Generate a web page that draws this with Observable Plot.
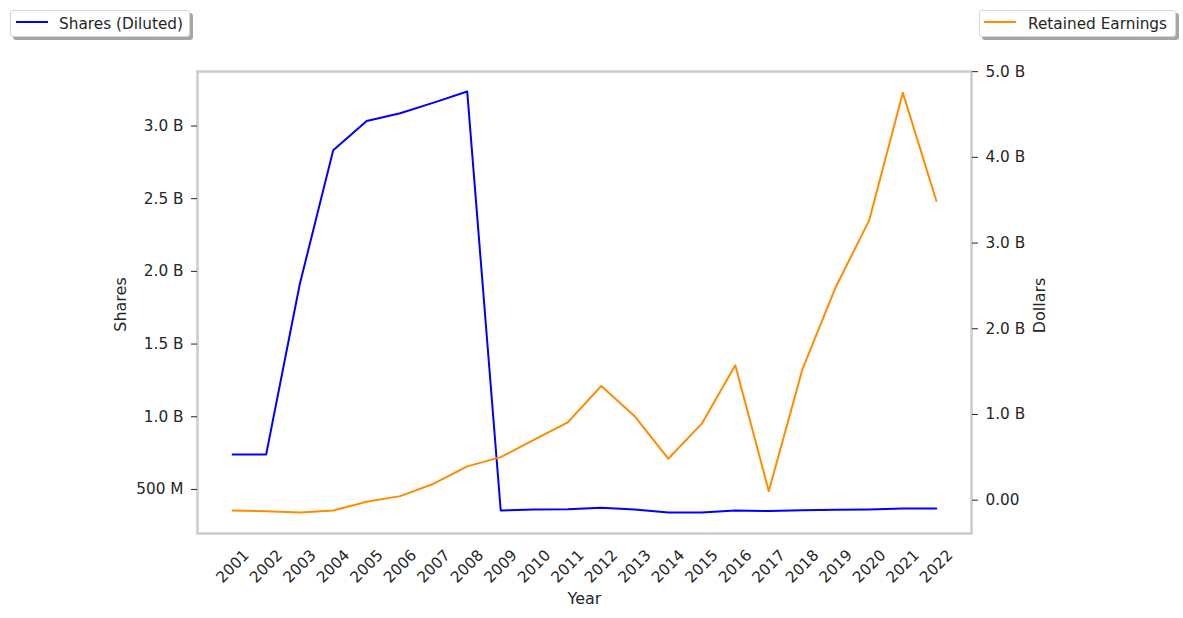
<!DOCTYPE html>
<html>
<head>
<meta charset="utf-8">
<script src="https://cdn.jsdelivr.net/npm/d3@7"></script>
<script src="https://cdn.jsdelivr.net/npm/@observablehq/plot@0.6"></script>
<style>
  body { margin: 0; background: #fff; font-family: "DejaVu Sans", sans-serif; }
  #wrap { position: relative; width: 1183px; height: 618px; overflow: hidden; }
  #wrap svg { position: absolute; left: 0; top: 0; }
  .legend { position: absolute; top: 10px; height: 27px; box-sizing: border-box; background: #fff;
            border: 1px solid #d6d6d6; border-radius: 3px; box-shadow: 3px 3px 0 rgba(0,0,0,0.35);
            font-size: 15.3px; color: #262626; }
  .legend .sw { position: absolute; top: 10px; width: 32px; height: 0; border-top: 2px solid; }
  .legend .tx { position: absolute; top: 3px; line-height: 20px; white-space: nowrap; }
</style>
</head>
<body>
<div id="wrap">
  <div class="legend" style="left:10px;width:180px;"><span class="sw" style="left:5px;border-color:#0000ff"></span><span class="tx" style="left:48px">Shares (Diluted)</span></div>
  <div class="legend" style="left:979px;width:197px;"><span class="sw" style="left:4px;border-color:#ff8c00"></span><span class="tx" style="left:48px">Retained Earnings</span></div>
</div>
<script>
const years = [2001,2002,2003,2004,2005,2006,2007,2008,2009,2010,2011,2012,2013,2014,2015,2016,2017,2018,2019,2020,2021,2022];
const sharesDiluted = [0.741e9,0.741e9,1.91e9,2.833e9,3.035e9,3.088e9,3.161e9,3.237e9,0.355e9,0.362e9,0.364e9,0.374e9,0.362e9,0.342e9,0.342e9,0.355e9,0.351e9,0.357e9,0.360e9,0.362e9,0.369e9,0.369e9];
const retainedEarnings = [-0.12e9,-0.13e9,-0.144e9,-0.12e9,-0.019e9,0.047e9,0.192e9,0.394e9,0.502e9,0.706e9,0.908e9,1.332e9,0.978e9,0.484e9,0.893e9,1.574e9,0.105e9,1.523e9,2.488e9,3.268e9,4.755e9,3.493e9];
const shareTicks = [0.5e9,1.0e9,1.5e9,2.0e9,2.5e9,3.0e9];
const dollarTicks = [0,1e9,2e9,3e9,4e9,5e9];

const sharesData = years.map((y,i) => ({year: y, value: sharesDiluted[i]}));
const retainedData = years.map((y,i) => ({year: y, value: retainedEarnings[i]}));

const common = {
  width: 1183, height: 618,
  marginLeft: 197, marginRight: 212, marginTop: 71, marginBottom: 85,
  style: {fontFamily: "DejaVu Sans", fontSize: "15.3px", color: "#262626", background: "transparent", overflow: "visible"},
  x: {type: "linear", domain: [1999.95, 2023.05], axis: null}
};

const fmtShares = d => d < 1e9 ? `${d/1e6} M` : `${(d/1e9).toFixed(1)} B`;
const fmtDollars = d => d === 0 ? "0.00" : `${(d/1e9).toFixed(1)} B`;

const p1 = Plot.plot({
  ...common,
  y: {domain: [0.197e9, 3.375e9], axis: null},
  marks: [
    Plot.frame({stroke: "#cccccc", strokeWidth: 2.5}),
    Plot.axisX({ticks: years, tickSize: 0, tickRotate: -45, textAnchor: "middle", lineAnchor: "middle", tickPadding: 33, tickFormat: d => String(d), label: null}),
    Plot.axisY({ticks: shareTicks, tickSize: 6, tickPadding: 8, tickFormat: fmtShares, label: null, stroke: "#262626"}),
    Plot.line(sharesData, {x: "year", y: "value", stroke: "#0000ff", strokeWidth: 2}),
    Plot.text(["Year"], {frameAnchor: "bottom", dy: 65, textAnchor: "middle", lineAnchor: "middle", text: d => d, fontSize: 16, fill: "#262626"}),
    Plot.text(["Shares"], {frameAnchor: "left", dx: -77, dy: 2, rotate: -90, textAnchor: "middle", lineAnchor: "middle", text: d => d, fontSize: 16, fill: "#262626"})
  ]
});

const p2 = Plot.plot({
  ...common,
  y: {domain: [-0.389e9, 5.002e9], axis: null},
  marks: [
    Plot.axisY({ticks: dollarTicks, anchor: "right", tickSize: 6, tickPadding: 8, tickFormat: fmtDollars, label: null, stroke: "#262626"}),
    Plot.line(retainedData, {x: "year", y: "value", stroke: "#ff8c00", strokeWidth: 2}),
    Plot.text(["Dollars"], {frameAnchor: "right", dx: 68, dy: 3, rotate: -90, textAnchor: "middle", lineAnchor: "middle", text: d => d, fontSize: 16, fill: "#262626"})
  ]
});

const wrap = document.getElementById("wrap");
wrap.insertBefore(p2, wrap.firstChild);
wrap.insertBefore(p1, wrap.firstChild);
</script>
</body>
</html>
